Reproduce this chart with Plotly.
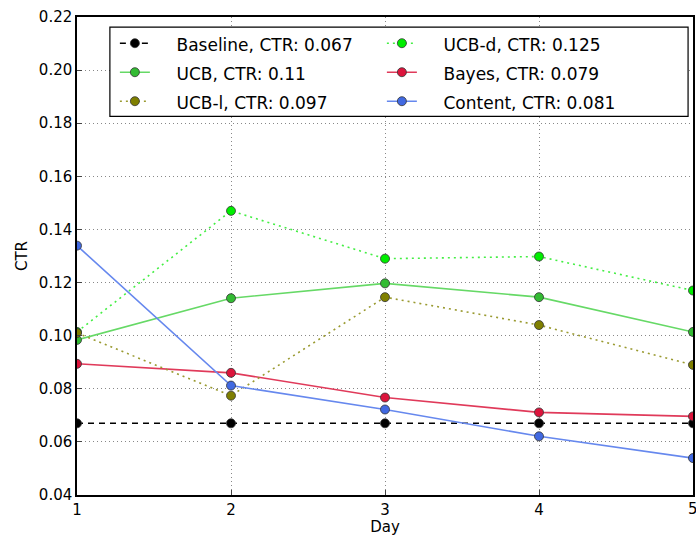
import plotly.graph_objects as go

days = [1, 2, 3, 4, 5]
baseline = [0.067, 0.067, 0.067, 0.067, 0.067]
ucb = [0.0984, 0.1141, 0.1197, 0.1145, 0.1014]
ucb_l = [0.1010, 0.0774, 0.1145, 0.1040, 0.0890]
ucb_d = [0.1014, 0.1470, 0.1290, 0.1298, 0.1170]
bayes = [0.0894, 0.0860, 0.0767, 0.0711, 0.0696]
content = [0.1339, 0.0812, 0.0722, 0.0621, 0.0539]
x_ticks = [1, 2, 3, 4, 5]
y_ticks = [0.04, 0.06, 0.08, 0.10, 0.12, 0.14, 0.16, 0.18, 0.20, 0.22]

# order for row-major legend (2 columns)
series = [
    ("Baseline, CTR: 0.067", baseline, "black", "black", "6px,5px"),
    ("UCB-d, CTR: 0.125", ucb_d, "#44ee44", "#00ee00", "2px,4px"),
    ("UCB, CTR: 0.11", ucb, "#66d966", "#33bb33", "solid"),
    ("Bayes, CTR: 0.079", bayes, "#e03a5a", "#dc143c", "solid"),
    ("UCB-l, CTR: 0.097", ucb_l, "#9a9a30", "#7f7f00", "2px,4px"),
    ("Content, CTR: 0.081", content, "#6688ee", "#4169e1", "solid"),
]

pad = "\u00a0" * 4

fig = go.Figure()
for name, vals, lc, mc, dash in series:
    label = "<span style='font-size:17px'>" + pad + name + "</span>"
    fig.add_trace(go.Scatter(
        x=days, y=vals, name=label, mode="lines+markers",
        line=dict(color=lc, width=1.6, dash=dash),
        marker=dict(color=mc, size=9, line=dict(color="#333333", width=0.8)),
    ))

fig.update_layout(
    width=696, height=536,
    margin=dict(l=77, r=1, t=17, b=38),
    paper_bgcolor="white", plot_bgcolor="white",
    font=dict(family="DejaVu Sans", size=15, color="black"),
    showlegend=True,
    legend=dict(
        orientation="h", x=0.0615, y=0.986, xanchor="left", yanchor="top",
        bgcolor="rgba(0,0,0,0)", borderwidth=0,
        font=dict(size=20), entrywidth=222, entrywidthmode="pixels",
        traceorder="normal",
    ),
    xaxis=dict(
        range=[1, 5], tickvals=x_ticks, ticks="inside", ticklen=5,
        showline=True, linecolor="black", linewidth=1.5, mirror=True,
        showgrid=True, gridcolor="#888888", griddash="1px,3px", gridwidth=1,
        zeroline=False,
        title=dict(text="Day", standoff=6, font=dict(size=15)),
    ),
    yaxis=dict(
        range=[0.04, 0.22], tickvals=y_ticks,
        tickformat=".2f", ticks="inside", ticklen=5,
        showline=True, linecolor="black", linewidth=1.5, mirror=True,
        showgrid=True, gridcolor="#888888", griddash="1px,3px", gridwidth=1,
        zeroline=False,
        title=dict(text="CTR", standoff=8, font=dict(size=15)),
    ),
)

# legend frame (matplotlib-style wide box)
fig.add_shape(type="rect", xref="paper", yref="paper",
              x0=0.0534, x1=0.992, y0=0.792, y1=0.979,
              fillcolor="white", line=dict(color="black", width=1.2), layer="above")

# last x tick label is clipped at the right edge in the reference
fig.add_annotation(x=x_ticks[-1], y=0, xref="x", yref="paper", yanchor="top",
                   yshift=-3, text=str(x_ticks[-1]), showarrow=False,
                   font=dict(size=15), xanchor="center")

fig.write_html("out.html")
